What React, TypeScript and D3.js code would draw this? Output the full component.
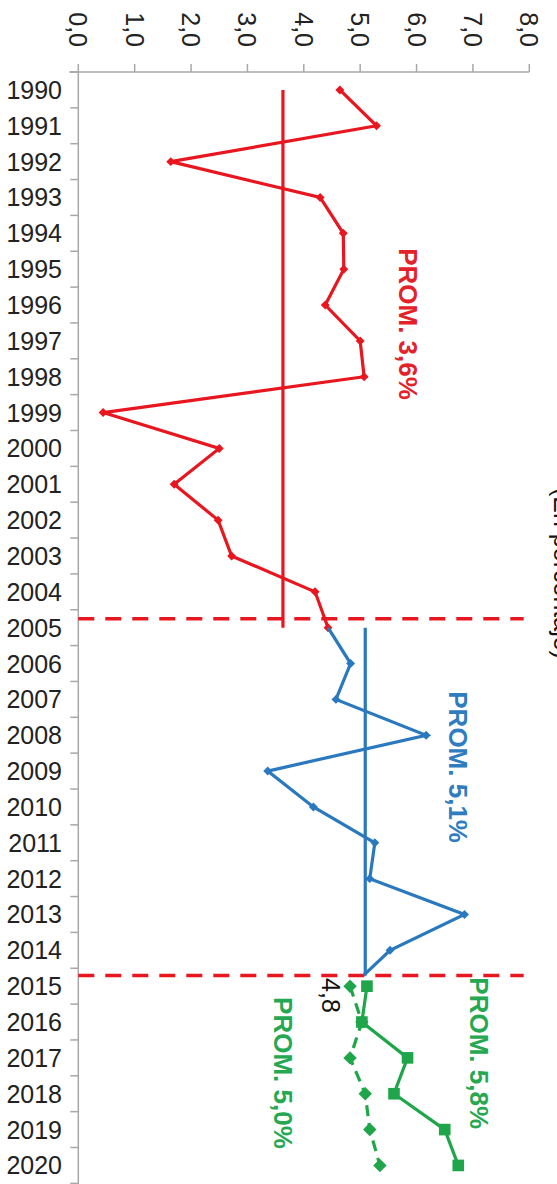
import React from 'react';
import * as d3 from 'd3';

const W = 557;
const H = 1184;

// Category (year) labels and value-axis ticks
const yearLabels = d3.range(1990, 2021);
const valueTicks = [0, 1, 2, 3, 4, 5, 6, 7, 8];

// Period 1990-2005 (red)
const redYears = [1990, 1991, 1992, 1993, 1994, 1995, 1996, 1997, 1998, 1999, 2000, 2001, 2002, 2003, 2004, 2005];
const redValues = [4.64, 5.29, 1.64, 4.29, 4.7, 4.71, 4.38, 5.0, 5.07, 0.44, 2.5, 1.7, 2.48, 2.72, 4.2, 4.43];

// Period 2005-2015 (blue)
const blueYears = [2005, 2006, 2007, 2008, 2009, 2010, 2011, 2012, 2013, 2014];
const blueValues = [4.43, 4.83, 4.57, 6.17, 3.36, 4.17, 5.26, 5.17, 6.85, 5.53];
const blueEndYear = 2014.7;
const blueEndValue = 5.06;

// Projection 2015-2020 (green)
const greenYears = [2015, 2016, 2017, 2018, 2019, 2020];
const greenHighValues = [5.12, 5.03, 5.84, 5.6, 6.5, 6.74];
const greenLowValues = [4.82, 5.03, 4.82, 5.09, 5.17, 5.35];

// Averages
const redMean = 3.63;
const blueMean = 5.09;
const separatorYears = [2004.75, 2014.7];

const RED = '#e8161f';
const BLUE = '#2a78bd';
const GREEN = '#1fa64b';
const AXIS = '#a8a8a8';
const FONT = 'Arial, "Liberation Sans", Helvetica, sans-serif';

export default function App() {
  const x = d3.scaleLinear().domain([0, 8]).range([78.3, 529.3]);
  const y = d3.scaleLinear().domain([1989.5, 2020.5]).range([72, 72 + 31 * 35.85]);

  type P = { yr: number; v: number };
  const line = d3
    .line<P>()
    .x((d) => x(d.v))
    .y((d) => y(d.yr));

  const red: P[] = redYears.map((yr, i) => ({ yr, v: redValues[i] }));
  const blue: P[] = blueYears.map((yr, i) => ({ yr, v: blueValues[i] }));
  const blueLine: P[] = [...blue, { yr: blueEndYear, v: blueEndValue }];
  const gHigh: P[] = greenYears.map((yr, i) => ({ yr, v: greenHighValues[i] }));
  const gLow: P[] = greenYears.map((yr, i) => ({ yr, v: greenLowValues[i] }));

  const smallDiamond = d3.symbol(d3.symbolSquare, 40)()!;
  const bigDiamond = d3.symbol(d3.symbolSquare, 90)()!;
  const square = d3.symbol(d3.symbolSquare, 135)()!;

  const boundaries = d3.range(1989.5, 2021, 1);
  const axisY = y(1989.5);
  const x0 = x(0);

  const rotLabel = (
    key: string,
    text: string,
    v: number,
    yr: number,
    color: string,
    size: number,
    bold: boolean,
    anchor: 'middle' | 'start' | 'end' = 'middle'
  ) => (
    <text
      key={key}
      transform={`translate(${x(v)},${y(yr)}) rotate(90)`}
      textAnchor={anchor}
      dominantBaseline="central"
      fontFamily={FONT}
      fontSize={size}
      fontWeight={bold ? 'bold' : 'normal'}
      fill={color}
    >
      {text}
    </text>
  );

  return (
    <svg
      width={W}
      height={H}
      style={{ position: 'absolute', left: 0, top: 0, background: '#fff' }}
    >
      <rect x={0} y={0} width={W} height={H} fill="#fff" />

      {/* Value axis (top) */}
      <line x1={x0 - 9} x2={x(8)} y1={axisY} y2={axisY} stroke={AXIS} strokeWidth={1.5} />
      {valueTicks.map((t) => (
        <g key={`vt${t}`}>
          <line x1={x(t)} x2={x(t)} y1={axisY} y2={axisY - 8} stroke={AXIS} strokeWidth={1.5} />
          <text
            transform={`translate(${x(t)},47) rotate(90)`}
            textAnchor="end"
            dominantBaseline="central"
            fontFamily={FONT}
            fontSize={25}
            fill="#222"
          >
            {t.toFixed(1).replace('.', ',')}
          </text>
        </g>
      ))}

      {/* Category axis (left) */}
      <line x1={x0} x2={x0} y1={axisY} y2={H} stroke={AXIS} strokeWidth={1.5} />
      {boundaries.map((b) => (
        <line key={`b${b}`} x1={x0 - 8} x2={x0} y1={y(b)} y2={y(b)} stroke={AXIS} strokeWidth={1.5} />
      ))}
      {yearLabels.map((yr) => (
        <text
          key={`yl${yr}`}
          x={62}
          y={y(yr)}
          textAnchor="end"
          dominantBaseline="central"
          fontFamily={FONT}
          fontSize={25}
          fill="#222"
        >
          {yr}
        </text>
      ))}

      {/* Separators */}
      {separatorYears.map((s) => (
        <line
          key={`sep${s}`}
          x1={x0}
          x2={x(7.9)}
          y1={y(s)}
          y2={y(s)}
          stroke={RED}
          strokeWidth={3.5}
          strokeDasharray="16 11"
        />
      ))}

      {/* Averages */}
      <line x1={x(redMean)} x2={x(redMean)} y1={y(1990)} y2={y(2005)} stroke={RED} strokeWidth={3.2} />
      <line x1={x(blueMean)} x2={x(blueMean)} y1={y(2005)} y2={y(blueEndYear)} stroke={BLUE} strokeWidth={3.2} />

      {/* Series */}
      <path d={line(red)!} fill="none" stroke={RED} strokeWidth={3.2} />
      {red.map((d) => (
        <path key={`rm${d.yr}`} d={smallDiamond} transform={`translate(${x(d.v)},${y(d.yr)}) rotate(45)`} fill={RED} />
      ))}
      <path d={line(blueLine)!} fill="none" stroke={BLUE} strokeWidth={3.2} />
      {blue.slice(1).map((d) => (
        <path key={`bm${d.yr}`} d={smallDiamond} transform={`translate(${x(d.v)},${y(d.yr)}) rotate(45)`} fill={BLUE} />
      ))}
      <path d={line(gLow)!} fill="none" stroke={GREEN} strokeWidth={3.2} strokeDasharray="11 7" />
      <path d={line(gHigh)!} fill="none" stroke={GREEN} strokeWidth={3.2} />
      {gLow.map((d) => (
        <path key={`gl${d.yr}`} d={bigDiamond} transform={`translate(${x(d.v)},${y(d.yr)}) rotate(45)`} fill={GREEN} />
      ))}
      {gHigh.map((d) => (
        <path key={`gh${d.yr}`} d={square} transform={`translate(${x(d.v)},${y(d.yr)})`} fill={GREEN} />
      ))}

      {/* Annotations */}
      {rotLabel('p36', 'PROM. 3,6%', 5.85, 1996.53, '#e3222a', 26, true)}
      {rotLabel('p51', 'PROM. 5,1%', 6.74, 2008.89, '#2f7cbf', 26, true)}
      {rotLabel('p58', 'PROM. 5,8%', 7.11, 2016.87, '#26a852', 26, true)}
      {rotLabel('p50', 'PROM. 5,0%', 3.63, 2017.42, '#26a852', 26, true)}
      {rotLabel('v48', '4,8', 4.48, 2015.26, '#111', 25, false)}

      {/* Axis title, cut by the right edge as in the source */}
      <text
        transform={`translate(${W - 3},488) rotate(90)`}
        textAnchor="start"
        fontFamily={FONT}
        fontSize={25}
        fill="#111"
      >
        (En porcentaje)
      </text>
    </svg>
  );
}
